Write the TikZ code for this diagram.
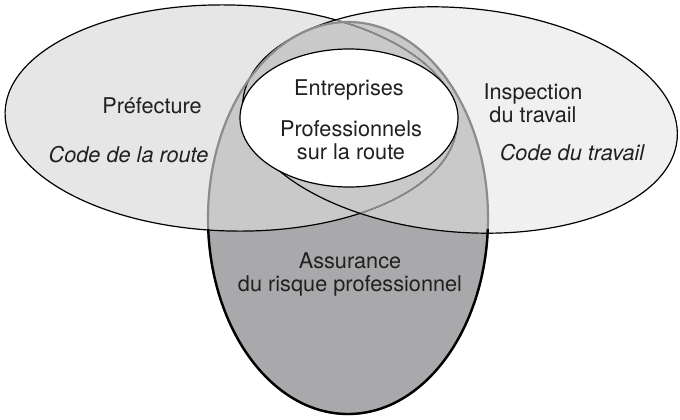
\documentclass[tikz,border=0pt]{standalone}
\usepackage{fontspec}
\setmainfont{TeX Gyre Heros}
\definecolor{prefgray}{HTML}{E6E6E6}
\definecolor{inspgray}{HTML}{EFF0EF}
\definecolor{midgray}{HTML}{C9C9CA}
\definecolor{assgray}{HTML}{A9A9AB}
\definecolor{edgegray}{HTML}{8C8C8C}
\definecolor{textgray}{HTML}{231F20}
\newcommand{\prefshape}{(231,301) ellipse [x radius=113pt, y radius=56.5pt]}
\newcommand{\inspshape}{(460,299) ellipse [x radius=109pt, y radius=56pt]}
\newcommand{\assshape}{(348,201) ellipse [x radius=70pt, y radius=98pt]}
\newcommand{\entshape}{(349,301) ellipse [x radius=54.5pt, y radius=34.5pt]}
\begin{document}
\begin{tikzpicture}[x=0.5pt,y=0.5pt]
        \tikzstyle{rimline}=[draw=black,line width=0.6pt]
        \tikzstyle{greyline}=[draw=edgegray,line width=0.7pt]
        \tikzstyle{zonetext}=[anchor=base,align=center,text=textgray,font=\fontsize{10.85}{11.5}\selectfont]
        \tikzstyle{codetext}=[zonetext,font=\fontsize{10.85}{11.5}\selectfont\itshape]
        \tikzstyle{pref}=[rotate around={-1.5:(231,301)}]
        \tikzstyle{insp}=[rotate around={-5:(460,299)}]

        \useasboundingbox (0,0) rectangle (680,419);

        % fills
        \fill[pref,fill=prefgray] \prefshape;
        \fill[insp,fill=inspgray] \inspshape;
        \fill[fill=assgray] \assshape;
        \begin{scope}
          \clip \assshape;
          \fill[pref,fill=midgray] \prefshape;
          \fill[insp,fill=midgray] \inspshape;
        \end{scope}

        % outlines
        \draw[pref,rimline] \prefshape;
        \begin{scope}
          \clip[insp] \inspshape;
          \draw[pref,greyline] \prefshape;
        \end{scope}
        \draw[insp,rimline] \inspshape;
        \draw[draw=edgegray,line width=1.1pt] \assshape;
        \begin{scope}
          \clip (0,0) rectangle (680,190);
          \draw[line width=1.2pt] \assshape;
        \end{scope}
        \filldraw[fill=white,rimline] \entshape;

        % texts (base = last line)
        \node[zonetext] (prefecture) at (152,306) {Préfecture};
        \node[codetext] (coderoute) at (128.5,257) {Code de la route};
        \node[zonetext] (entreprises) at (349,324) {Entreprises};
        \node[zonetext] (pros) at (351,260) {Professionnels\\sur la route};
        \node[zonetext] (inspection) at (533,297) {Inspection\\du travail};
        \node[codetext] (codetravail) at (572,259) {Code du travail};
        \node[zonetext] (assurance) at (350,128) {Assurance\\du risque professionnel};
\end{tikzpicture}
\end{document}
